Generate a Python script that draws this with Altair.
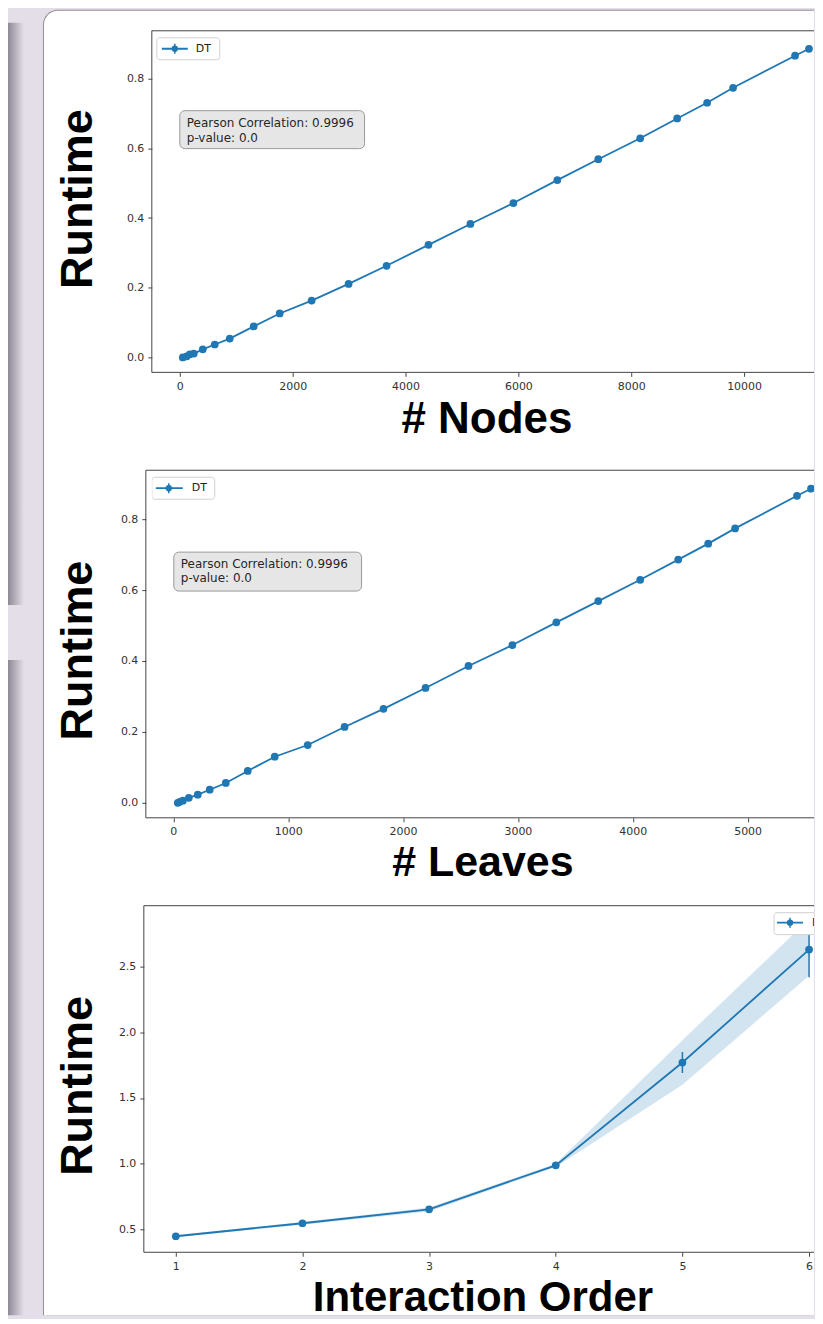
import altair as alt
import pandas as pd

# ---------------- data ----------------
nodes = [53, 124, 177, 248, 407, 619, 885, 1310, 1770, 2336, 2991, 3664, 4407, 5150, 5912,
         6690, 7416, 8159, 8814, 9345, 9805, 10903, 11150]
nodes_runtime = [0.000, 0.003, 0.009, 0.011, 0.023, 0.037, 0.054, 0.089, 0.126, 0.163, 0.211,
                 0.263, 0.323, 0.383, 0.443, 0.509, 0.569, 0.629, 0.686, 0.731, 0.774, 0.866, 0.886]

leaves = [39, 57, 83, 135, 213, 317, 457, 648, 883, 1170, 1491, 1830, 2196, 2570, 2952,
          3335, 3700, 4065, 4396, 4657, 4891, 5430, 5552]
leaves_runtime = [0.000, 0.003, 0.006, 0.014, 0.023, 0.037, 0.056, 0.090, 0.130, 0.163, 0.214,
                  0.265, 0.324, 0.386, 0.445, 0.509, 0.569, 0.629, 0.686, 0.731, 0.774, 0.866, 0.886]

order = [1, 2, 3, 4, 5, 6]
order_runtime = [0.447, 0.546, 0.652, 0.987, 1.77, 2.63]
order_err_lo = [0.440, 0.538, 0.642, 0.975, 1.69, 2.42]
order_err_hi = [0.455, 0.555, 0.662, 1.000, 1.85, 2.84]
order_band_lo = [0.440, 0.535, 0.635, 0.975, 1.60, 2.43]
order_band_hi = [0.455, 0.556, 0.666, 1.000, 1.94, 2.86]

x_ticks_nodes = [0, 2000, 4000, 6000, 8000, 10000]
x_ticks_leaves = [0, 1000, 2000, 3000, 4000, 5000]
x_ticks_order = [1, 2, 3, 4, 5, 6]
y_ticks_small = [0.0, 0.2, 0.4, 0.6, 0.8]
y_ticks_order = [0.5, 1.0, 1.5, 2.0, 2.5]

legend_label = "DT"
annot_line1 = "Pearson Correlation: 0.9996"
annot_line2 = "p-value: 0.0"

# ---------------- style ----------------
BLUE = "#1f77b4"
PURPLE = "#e4dee9"
SPINE = "#444444"
W = 663  # plot width (px)
ONE = pd.DataFrame({"k": [0]})


def prect(x, x2, y, y2, **mk):
    return alt.Chart(ONE).mark_rect(**mk).encode(
        x=alt.value(x), x2=alt.value(x2), y=alt.value(y), y2=alt.value(y2))


def prule(x, x2, y, y2, **mk):
    return alt.Chart(ONE).mark_rule(**mk).encode(
        x=alt.value(x), x2=alt.value(x2), y=alt.value(y), y2=alt.value(y2))


def ptext(x, y, txt, **mk):
    return alt.Chart(ONE).mark_text(text=txt, **mk).encode(x=alt.value(x), y=alt.value(y))


def xaxis(values, fmt, title, tx, ty, fs):
    return alt.Axis(values=values, format=fmt, title=title, domain=False, grid=False,
                    tickSize=4, tickColor=SPINE, tickWidth=1,
                    labelFont="DejaVu Sans", labelFontSize=11, labelColor="#333333",
                    labelPadding=4, labelFlush=False, labelOverlap=False,
                    titleFont="Liberation Sans", titleFontSize=fs, titleFontWeight="bold",
                    titleColor="#000000", titleX=tx, titleY=ty, titleAlign="center",
                    titleBaseline="alphabetic", zindex=1)


def yaxis(values, fmt, off, tx, ty):
    return alt.Axis(values=values, format=fmt, title="Runtime", domain=False, grid=False,
                    offset=off, tickSize=4, tickColor=SPINE, tickWidth=1,
                    labelFont="DejaVu Sans", labelFontSize=11, labelColor="#333333",
                    labelPadding=4, labelFlush=False, labelOverlap=False,
                    titleFont="Liberation Sans", titleFontSize=45, titleFontWeight="bold",
                    titleColor="#000000", titleAngle=270, titleX=tx, titleY=ty,
                    titleAlign="center", titleBaseline="middle", zindex=1)


def spines(left, top, bottom):
    return [
        prule(left, W, top, top, color=SPINE, strokeWidth=1),
        prule(left, W, bottom, bottom, color=SPINE, strokeWidth=1),
        prule(left, left, top, bottom, color=SPINE, strokeWidth=1),
    ]


def legend(bx, by, bx2, by2, hx1, hx2, hy, dotx, tx):
    return [
        prect(bx, bx2, by, by2, fill="white", stroke="#d0d0d0", strokeWidth=1,
              cornerRadius=3, clip=True),
        prule(hx1, hx2, hy, hy, color=BLUE, strokeWidth=1.8, clip=True),
        prule(dotx, dotx, hy - 5, hy + 5, color=BLUE, strokeWidth=1.5, clip=True),
        alt.Chart(ONE).mark_point(filled=True, color=BLUE, size=40, opacity=1, clip=True)
        .encode(x=alt.value(dotx), y=alt.value(hy)),
        ptext(tx, hy, legend_label, align="left", baseline="middle", font="DejaVu Sans",
              fontSize=11, color="#222222", clip=True),
    ]


def annotation(bx, by, bx2, by2, tx, ty1, ty2):
    return [
        prect(bx, bx2, by, by2, fill="#e6e6e6", stroke="#9a9a9a", strokeWidth=1,
              cornerRadius=5),
        ptext(tx, ty1, annot_line1, align="left", baseline="middle", font="DejaVu Sans",
              fontSize=12, color="#262626"),
        ptext(tx, ty2, annot_line2, align="left", baseline="middle", font="DejaVu Sans",
              fontSize=12, color="#262626"),
    ]


# ---------------- panel 1 : # Nodes ----------------
H1 = 342
df1 = pd.DataFrame({"x": nodes, "y": nodes_runtime})
x1 = alt.X("x:Q", scale=alt.Scale(domain=[-496, 11239], nice=False, zero=False),
           axis=xaxis(x_ticks_nodes, "d", "# Nodes", 335, 60, 44))
y1 = alt.Y("y:Q", scale=alt.Scale(domain=[-0.043, 0.9376], nice=False, zero=False),
           axis=yaxis(y_ticks_small, ".1f", 0, -74, 168))
base1 = alt.Chart(df1).encode(x=x1, y=y1)

shadow = alt.LinearGradient(
    gradient="linear",
    stops=[alt.GradientStop(color="#8e8994", offset=0),
           alt.GradientStop(color=PURPLE, offset=1)],
    x1=0, x2=1, y1=0, y2=0)

decor1 = [
    prect(-144, W, -22, 1286, fill=PURPLE),
    prect(-144, -128, -8, 575, fill=shadow),
    prect(-144, -128, 630, 1286, fill=shadow),
    prect(-109, W, -21, 1286, fill="#8f8f8f", cornerRadiusTopLeft=15),
    prect(-108, W, -20, 1286, fill="white", cornerRadiusTopLeft=14),
]
p1 = alt.layer(
    *decor1,
    *spines(0, 0, H1),
    base1.mark_line(color=BLUE, strokeWidth=1.8, clip=True),
    base1.mark_circle(color=BLUE, size=60, opacity=1, clip=True),
    *legend(5, 7, 68, 29, 10, 36, 18, 23, 44),
    *annotation(28, 80, 213, 118, 35, 92, 107),
).properties(width=W, height=H1)

# ---------------- panel 2 : # Leaves ----------------
H2 = 358
df2 = pd.DataFrame({"x": leaves, "y": leaves_runtime})
x2 = alt.X("x:Q", scale=alt.Scale(domain=[-187, 5578], nice=False, zero=False),
           axis=xaxis(x_ticks_leaves, "d", "# Leaves", 331, 58, 43))
y2 = alt.Y("y:Q", scale=alt.Scale(domain=[-0.04225, 0.9662], nice=False, zero=False),
           axis=yaxis(y_ticks_small, ".1f", 6, -68, 190))
base2 = alt.Chart(df2).encode(x=x2, y=y2)
p2 = alt.layer(
    *spines(-6, 10, H2),
    base2.mark_line(color=BLUE, strokeWidth=1.8, clip=True),
    base2.mark_circle(color=BLUE, size=60, opacity=1, clip=True),
    *legend(0, 17, 63, 39, 4, 31, 28, 17, 40),
    *annotation(22, 92, 210, 131, 29, 104, 118),
).properties(width=W, height=H2)

# ---------------- panel 3 : Interaction Order ----------------
H3 = 347
ydom3 = alt.Scale(domain=[0.325, 2.964], nice=False, zero=False)
df3 = pd.DataFrame({"x": order, "y": order_runtime, "elo": order_err_lo, "ehi": order_err_hi,
                    "blo": order_band_lo, "bhi": order_band_hi})
x3 = alt.X("x:Q", scale=alt.Scale(domain=[0.8107, 6.039], nice=False, zero=False),
           axis=xaxis(x_ticks_order, "d", "Interaction Order", 331, 58, 42))
y3 = alt.Y("y:Q", scale=ydom3, axis=yaxis(y_ticks_order, ".1f", 8, -66, 180))
base3 = alt.Chart(df3)
p3 = alt.layer(
    *spines(-8, 0, H3),
    base3.mark_area(color=BLUE, opacity=0.2, clip=True).encode(
        x=x3, y=alt.Y("blo:Q", scale=ydom3), y2="bhi:Q"),
    base3.mark_rule(color=BLUE, strokeWidth=1.5, clip=True).encode(
        x=x3, y=alt.Y("elo:Q", scale=ydom3), y2="ehi:Q"),
    base3.mark_line(color=BLUE, strokeWidth=1.8, clip=True).encode(x=x3, y=y3),
    base3.mark_circle(color=BLUE, size=60, opacity=1, clip=True).encode(x=x3, y=y3),
    *legend(623, 7, 700, 29, 626, 652, 17, 639, 661),
).properties(width=W, height=H3)

chart = alt.vconcat(p1, p2, p3, spacing=88, bounds="flush").properties(
    padding=0, background=PURPLE
).configure_view(strokeWidth=0)

chart.save("out.html", embed_options={"renderer": "svg", "actions": False})
